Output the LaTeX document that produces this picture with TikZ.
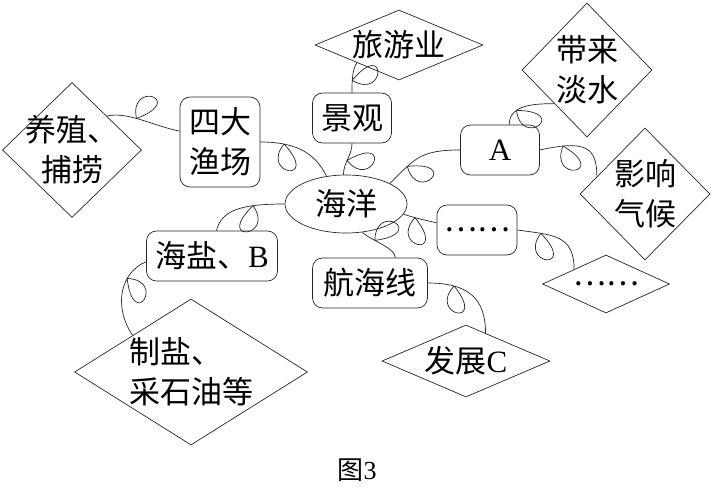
\documentclass[tikz,border=0pt]{standalone}
\usepackage{fontspec}
\setmainfont{Liberation Serif}
\newfontfamily\cjk{Noto Sans CJK SC}
\usetikzlibrary{shapes.geometric,decorations.markings}

\tikzset{
  rcurl/.style={postaction={decorate,decoration={markings,
      mark=at position #1 with {\draw (0,0) .. controls (44,32) and (-18,35) .. (0,0);}}}},
  lcurl/.style={postaction={decorate,decoration={markings,
      mark=at position #1 with {\draw (0,0) .. controls (44,-32) and (-18,-35) .. (0,0);}}}}
}

\begin{document}
\begin{tikzpicture}[x=1pt,y=-1pt,line width=0.7pt,draw=black!85]
\useasboundingbox (0,0) rectangle (714,493);
\tikzstyle{every node}=[font=\cjk\fontsize{31}{40}\selectfont,align=center]
\tikzstyle{box}=[draw,rounded corners=10pt,inner sep=0pt,minimum width=80pt,minimum height=50pt]
\tikzstyle{dia}=[draw,diamond,inner sep=-14pt]

\node[draw,ellipse,inner sep=0pt,minimum width=122pt,minimum height=58pt] (haiyang) at (346,204) {海洋};
\node[box,minimum height=90pt] (sida) at (220,142) {四大\\渔场};
\node[dia,minimum width=139pt,minimum height=135pt] (yangzhi) at (72,150) {养殖、\\捕捞};
\node[box,minimum width=79pt] (jingguan) at (352,118) {景观};
\node[dia,minimum width=168pt,minimum height=70pt] (lvyou) at (399,45) {旅游业};
\node[box,minimum width=79pt] (A) at (500,150) {\textrm{A}};
\node[dia,minimum width=130pt,minimum height=134pt] (dailai) at (587,70) {带来\\淡水};
\node[dia,minimum width=130pt,minimum height=132pt] (yingxiang) at (645,194) {影响\\气候};
\node[box] (dots) at (477,230) {……};
\node[dia,minimum width=127pt,minimum height=58pt] (dotsd) at (606,284) {……};
\node[box,minimum width=131pt] (haiyan) at (212,256) {海盐、\textrm{B}};
\node[box,minimum width=115pt] (hanghai) at (370,283) {航海线};
\node[dia,minimum width=168pt,minimum height=72pt] (fazhan) at (466,361) {发展\textrm{C}};
\node[dia,minimum width=233pt,minimum height=146pt,align=left] (zhiyan) at (191,372) {制盐、\\采石油等};
\node[font=\cjk\fontsize{26}{30}\selectfont] (tu) at (357,470) {图\textrm{3}};

% curly links
\draw[lcurl=0.4] (yangzhi.north east) .. controls +(20,-5) and +(-25,-5) .. (sida.165);
\draw[rcurl=0.3] (sida.east) .. controls +(40,0) and +(-10,-20) .. (haiyang.125);
\draw[rcurl=0.45] (haiyang.95) .. controls +(0,-12) and +(0,12) .. (jingguan.south);
\draw[rcurl=0.4] (jingguan.north) .. controls +(0,-10) and +(-5,8) .. (lvyou.south west);
\draw[rcurl=0.3] (haiyang.25) .. controls +(25,-25) and +(-40,0) .. (A.west);
\draw[rcurl=0.3] (A.70) .. controls +(0,-20) and +(-20,0) .. (dailai.south west);
\draw[rcurl=0.3] (A.east) .. controls +(45,-10) and +(0,-30) .. (yingxiang.160);
\draw[rcurl=0.35] (haiyang.-10) .. controls +(15,5) and +(-12,-3) .. (dots.170);
\draw[rcurl=0.3] (dots.east) .. controls +(35,5) and +(0,-35) .. (dotsd.north west);
\draw[lcurl=0.35] (haiyang.-60) .. controls +(8,8) and +(0,-10) .. (hanghai.45);
\draw[rcurl=0.3] (hanghai.east) .. controls +(40,0) and +(0,-35) .. (fazhan.55);
\draw[lcurl=0.4] (haiyang.west) .. controls +(-45,0) and +(5,-20) .. (haiyan.80);
\draw[lcurl=0.3] (haiyan.185) .. controls +(-25,10) and +(-20,-30) .. (zhiyan.north west);
\end{tikzpicture}
\end{document}
